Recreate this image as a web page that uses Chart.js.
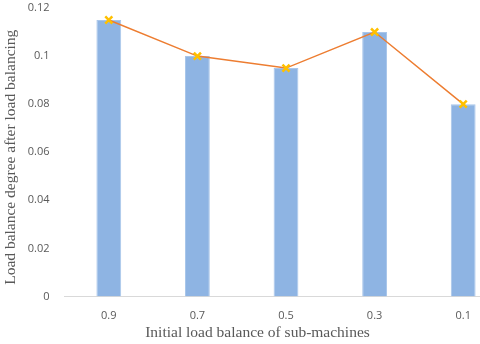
<!DOCTYPE html>
<html>
<head>
<meta charset="utf-8">
<script src="https://cdn.jsdelivr.net/npm/chart.js@4/dist/chart.umd.min.js"></script>
<style>
html,body{margin:0;padding:0;background:#fff;overflow:hidden;width:480px;height:344px;}
#wrap{width:515px;height:344px;}
</style>
</head>
<body>
<div id="wrap"><canvas id="c" width="515" height="344"></canvas></div>
<script>
const categories = ["0.9", "0.7", "0.5", "0.3", "0.1"];
const values = [0.115, 0.1, 0.095, 0.11, 0.08];
const yTicks = [0, 0.02, 0.04, 0.06, 0.08, 0.1, 0.12];
const xTitle = "Initial load balance of sub-machines";
const yTitle = "Load balance degree after load balancing";

const axisTitles = {
  id: 'axisTitles',
  afterDraw(chart) {
    const ctx = chart.ctx;
    const a = chart.chartArea;
    ctx.save();
    ctx.fillStyle = '#595959';
    ctx.font = '15.5px "Liberation Serif"';
    ctx.textAlign = 'center';
    ctx.textBaseline = 'middle';
    ctx.fillText(xTitle, a.left + 193, 333);
    ctx.translate(11, (a.top + a.bottom) / 2 + 5);
    ctx.rotate(-Math.PI / 2);
    ctx.fillText(yTitle, 0, 0);
    ctx.restore();
  }
};

new Chart(document.getElementById('c'), {
  data: {
    labels: categories,
    datasets: [
      {
        type: 'line',
        data: values,
        order: 0,
        borderColor: '#ED7D31',
        borderWidth: 1.5,
        pointStyle: 'crossRot',
        pointRadius: 5,
        pointBorderWidth: 2.5,
        pointBorderColor: '#FFC000',
        pointBackgroundColor: '#FFC000',
        tension: 0
      },
      {
        type: 'bar',
        data: values,
        order: 1,
        backgroundColor: '#8EB4E3',
        borderColor: '#A9C6EA',
        borderWidth: 1,
        barPercentage: 0.28,
        categoryPercentage: 1.0
      }
    ]
  },
  plugins: [axisTitles],
  options: {
    responsive: false,
    animation: false,
    layout: { padding: { top: 8, right: 0, left: 0, bottom: 0 } },
    plugins: { legend: { display: false }, tooltip: { enabled: false } },
    scales: {
      x: {
        offset: true,
        grid: { display: false, drawTicks: false },
        border: { display: true, color: '#D9D9D9', width: 1 },
        ticks: { color: '#595959', font: { family: 'Open Sans', size: 11 }, padding: 13 },
        title: { display: false, text: xTitle },
        afterFit: (s) => { s.height = 47.5; s.paddingLeft = 0; s.paddingRight = 0; }
      },
      y: {
        min: 0,
        max: 0.12,
        afterBuildTicks: (s) => { s.ticks = yTicks.map(v => ({ value: v })); },
        grid: { display: false, drawTicks: false },
        border: { display: false },
        ticks: { color: '#595959', font: { family: 'Open Sans', size: 11 }, padding: 15,
          callback: (v) => String(Math.round(v * 100) / 100) },
        title: { display: false, text: yTitle },
        afterFit: (s) => { s.width = 64.5; s.paddingTop = 0; s.paddingBottom = 0; }
      }
    }
  }
});
</script>
</body>
</html>
